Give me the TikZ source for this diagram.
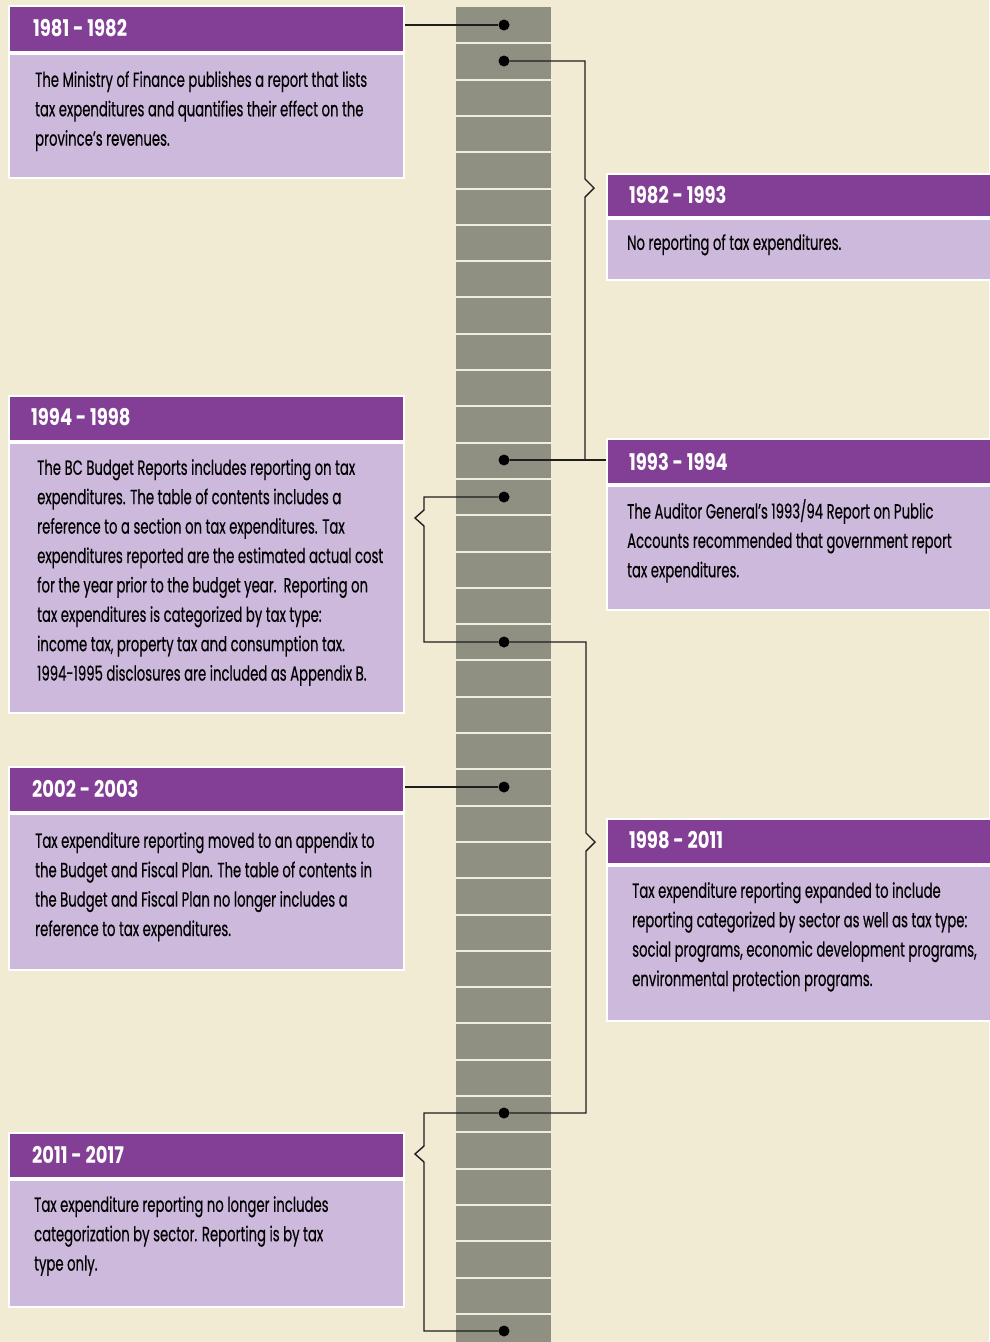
\documentclass[tikz,border=0pt]{standalone}
\usepackage{fontspec}
\setmainfont{Poppins}[FakeStretch=0.645, FakeBold=0.35]
\newfontfamily\hdrfont{Poppins}[FakeStretch=0.78, UprightFont=*-Bold]
\usetikzlibrary{calc}
\definecolor{bgc}{HTML}{F2EBD4}
\definecolor{barc}{HTML}{909082}
\definecolor{barline}{HTML}{F1EDDC}
\definecolor{hdrc}{HTML}{823F95}
\definecolor{bdyc}{HTML}{CDB9DC}
\definecolor{linec}{HTML}{1E1E1E}
\begin{document}
\begin{tikzpicture}[x=1pt,y=-1pt,
  hdr/.style={draw=white, line width=2pt, fill=hdrc, anchor=north west, inner sep=0pt},
  bdy/.style={draw=white, line width=2pt, fill=bdyc, anchor=north west, inner sep=0pt},
  htxt/.style={anchor=west, text=white, inner sep=0pt, font=\hdrfont\fontsize{23}{26}\selectfont},
  btxt/.style={anchor=north west, align=left, inner sep=0pt, text=black, font=\fontsize{20.5}{29.4}\selectfont},
  dotn/.style={circle, fill=black, inner sep=0pt, minimum size=11pt},
  conn/.style={draw=linec, line width=1.4pt, line join=miter}]
\useasboundingbox (0,0) rectangle (989,1342);
\fill[bgc] (0,0) rectangle (989,1342);
% timeline bar
\fill[barc] (456,7) rectangle (551,1342);
\foreach \k in {1,...,36}{
  \draw[barline, line width=2pt] (456,{7+36.3*\k}) -- (551,{7+36.3*\k});
}

% Box 1: 1981 - 1982
\node[hdr, minimum width=395pt, minimum height=46pt] (h1) at (8,5) {};
\node[htxt] (t1) at ($(h1.west)+(25,-1)$) {1981 - 1982};
\node[bdy, minimum width=395pt, minimum height=124pt] (b1) at (h1.south west) {};
\node[btxt] (u1) at ($(b1.north west)+(27,18)$) {The Ministry of Finance publishes a report that lists\\tax expenditures and quantifies their effect on the\\province’s revenues.};

% Box 2: 1982 - 1993
\node[hdr, minimum width=400pt, minimum height=43pt] (h2) at (606,173) {};
\node[htxt] (t2) at ($(h2.west)+(23,0)$) {1982 - 1993};
\node[bdy, minimum width=400pt, minimum height=61pt] (b2) at (h2.south west) {};
\node[btxt] (u2) at ($(b2.north west)+(21,16)$) {No reporting of tax expenditures.};

% Box 3: 1994 - 1998
\node[hdr, minimum width=395pt, minimum height=45pt] (h3) at (8,395) {};
\node[htxt] (t3) at ($(h3.west)+(23,-1)$) {1994 - 1998};
\node[bdy, minimum width=395pt, minimum height=270pt] (b3) at (h3.south west) {};
\node[btxt] (u3) at ($(b3.north west)+(29,17)$) {The BC Budget Reports includes reporting on tax\\expenditures. The table of contents includes a\\reference to a section on tax expenditures. Tax\\expenditures reported are the estimated actual cost\\for the year prior to the budget year.\ \ Reporting on\\tax expenditures is categorized by tax type:\\income tax, property tax and consumption tax.\\1994-1995 disclosures are included as Appendix B.};

% Box 4: 1993 - 1994
\node[hdr, minimum width=400pt, minimum height=45pt] (h4) at (606,438) {};
\node[htxt] (t4) at ($(h4.west)+(23,0)$) {1993 - 1994};
\node[bdy, minimum width=400pt, minimum height=124pt] (b4) at (h4.south west) {};
\node[btxt] (u4) at ($(b4.north west)+(21,14)$) {The Auditor General’s 1993/94 Report on Public\\Accounts recommended that government report\\tax expenditures.};

% Box 5: 2002 - 2003
\node[hdr, minimum width=395pt, minimum height=45pt] (h5) at (8,766) {};
\node[htxt] (t5) at ($(h5.west)+(24,-1)$) {2002 - 2003};
\node[bdy, minimum width=395pt, minimum height=156pt] (b5) at (h5.south west) {};
\node[btxt] (u5) at ($(b5.north west)+(27,19)$) {Tax expenditure reporting moved to an appendix to\\the Budget and Fiscal Plan. The table of contents in\\the Budget and Fiscal Plan no longer includes a\\reference to tax expenditures.};

% Box 6: 1998 - 2011
\node[hdr, minimum width=400pt, minimum height=45pt] (h6) at (606,818) {};
\node[htxt] (t6) at ($(h6.west)+(23,-1)$) {1998 - 2011};
\node[bdy, minimum width=400pt, minimum height=155pt] (b6) at (h6.south west) {};
\node[btxt] (u6) at ($(b6.north west)+(26,17)$) {Tax expenditure reporting expanded to include\\reporting categorized by sector as well as tax type:\\social programs, economic development programs,\\environmental protection programs.};

% Box 7: 2011 - 2017
\node[hdr, minimum width=395pt, minimum height=45pt] (h7) at (8,1132) {};
\node[htxt] (t7) at ($(h7.west)+(24,-1)$) {2011 - 2017};
\node[bdy, minimum width=395pt, minimum height=127pt] (b7) at (h7.south west) {};
\node[btxt] (u7) at ($(b7.north west)+(26,17)$) {Tax expenditure reporting no longer includes\\categorization by sector. Reporting is by tax\\type only.};

% bracket corner points (chevron positions)
\coordinate (k1) at (585,188);
\coordinate (k2) at (424,518);
\coordinate (k3) at (586,842);
\coordinate (k4) at (424,1154);

% dots
\node[dotn] (d1) at (504,25) {};
\node[dotn] (d2) at (504,61) {};
\node[dotn] (d4) at (504,460) {};
\node[dotn] (d5) at (504,497) {};
\node[dotn] (d6) at (504,642) {};
\node[dotn] (d7) at (504,787) {};
\node[dotn] (d8) at (504,1113) {};
\node[dotn] (d9) at (504,1331) {};

% connectors
\draw[conn] (h1.east |- d1) -- (d1);
\draw[conn] (d2) -| ($(k1)+(0,-9)$) -- ($(k1)+(9,0)$) -- ($(k1)+(0,9)$) |- (d4);
\draw[conn] (d4) -- (h4.west |- d4);
\draw[conn] (d5) -| ($(k2)+(0,-8)$) -- ($(k2)+(-9,0)$) -- ($(k2)+(0,8)$) |- (d6);
\draw[conn] (d6) -| ($(k3)+(0,-9)$) -- ($(k3)+(9,0)$) -- ($(k3)+(0,9)$) |- (d8);
\draw[conn] (d8) -| ($(k4)+(0,-8)$) -- ($(k4)+(-9,0)$) -- ($(k4)+(0,8)$) |- (d9);
\draw[conn] (h5.east |- d7) -- (d7);
\end{tikzpicture}
\end{document}
